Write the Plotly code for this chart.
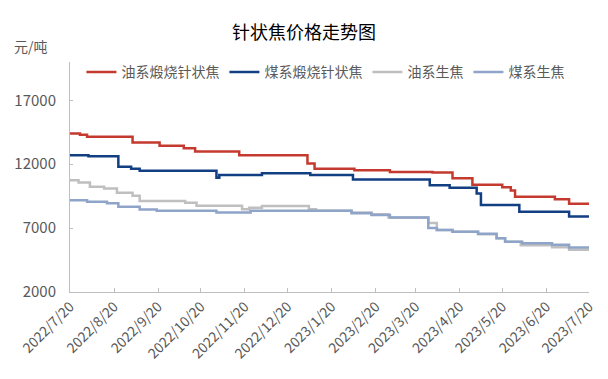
import plotly.graph_objects as go

# ---- data (change points, value holds until next date) ----
oil_calc_dates = ["2022-07-20", "2022-07-27", "2022-08-01", "2022-09-02", "2022-09-21", "2022-10-08",
                  "2022-10-16", "2022-11-16", "2023-01-03", "2023-01-08", "2023-02-05", "2023-03-02",
                  "2023-04-01", "2023-04-15", "2023-04-29", "2023-05-20", "2023-05-26", "2023-05-29",
                  "2023-06-26", "2023-07-06", "2023-07-20"]
oil_calc_vals = [14400, 14300, 14150, 13700, 13450, 13250,
                 13000, 12700, 12050, 11650, 11530, 11400,
                 11350, 10900, 10400, 10200, 9950, 9450,
                 9250, 8900, 8900]

coal_calc_dates = ["2022-07-20", "2022-08-02", "2022-08-23", "2022-09-01", "2022-09-07", "2022-10-31",
                   "2022-11-02", "2022-12-02", "2023-01-05", "2023-02-04", "2023-03-30", "2023-04-13",
                   "2023-05-02", "2023-05-05", "2023-06-01", "2023-07-06", "2023-07-20"]
coal_calc_vals = [12700, 12620, 11800, 11650, 11480, 10950,
                  11150, 11300, 11150, 10800, 10350, 10150,
                  9700, 8800, 8280, 7900, 7900]

oil_green_dates = ["2022-07-20", "2022-07-26", "2022-08-03", "2022-08-13", "2022-08-22", "2022-09-02",
                   "2022-09-07", "2022-10-09", "2022-10-17", "2022-11-18", "2022-11-23", "2022-12-02",
                   "2023-01-04", "2023-01-09", "2023-02-03", "2023-02-17", "2023-03-01", "2023-03-29",
                   "2023-04-04", "2023-04-15", "2023-05-03", "2023-05-16", "2023-05-22", "2023-06-02",
                   "2023-06-24", "2023-07-06", "2023-07-20"]
oil_green_vals = [10750, 10570, 10230, 10100, 9760, 9530,
                  9120, 8980, 8750, 8470, 8600, 8730,
                  8470, 8360, 8230, 8080, 7840, 7400,
                  6860, 6720, 6520, 6210, 5940, 5650,
                  5500, 5300, 5300]

coal_green_dates = ["2022-07-20", "2022-08-01", "2022-08-15", "2022-08-23", "2022-09-07", "2022-09-19",
                    "2022-10-31", "2022-11-24", "2023-02-03", "2023-02-17", "2023-03-02", "2023-03-29",
                    "2023-04-04", "2023-04-15", "2023-05-03", "2023-05-16", "2023-05-22", "2023-06-03",
                    "2023-06-24", "2023-07-06", "2023-07-20"]
coal_green_vals = [9190, 9060, 8940, 8670, 8450, 8360,
                   8230, 8360, 8160, 8020, 7840, 7000,
                   6860, 6720, 6550, 6210, 5940, 5820,
                   5690, 5480, 5480]

series_names = ["油系煅烧针状焦", "煤系煅烧针状焦", "油系生焦", "煤系生焦"]
series_colors = ["#C43A2E", "#123E82", "#BFBFBF", "#8EA4C9"]

tick_dates = ["2022-07-20", "2022-08-20", "2022-09-20", "2022-10-20", "2022-11-20", "2022-12-20",
              "2023-01-20", "2023-02-20", "2023-03-20", "2023-04-20", "2023-05-20", "2023-06-20",
              "2023-07-20"]
tick_labels = ["2022/7/20", "2022/8/20", "2022/9/20", "2022/10/20", "2022/11/20", "2022/12/20",
               "2023/1/20", "2023/2/20", "2023/3/20", "2023/4/20", "2023/5/20", "2023/6/20",
               "2023/7/20"]
y_ticks = [2000, 7000, 12000, 17000]

FONT = "Noto Sans CJK SC"

fig = go.Figure()
for name, color, xs, ys in zip(series_names, series_colors,
                               [oil_calc_dates, coal_calc_dates, oil_green_dates, coal_green_dates],
                               [oil_calc_vals, coal_calc_vals, oil_green_vals, coal_green_vals]):
    fig.add_trace(go.Scatter(x=xs, y=ys, name=name, mode="lines",
                             line=dict(color=color, width=2.5, shape="hv")))

fig.update_layout(
    width=608, height=379,
    margin=dict(l=70, r=19, t=62, b=87, autoexpand=False),
    paper_bgcolor="white", plot_bgcolor="white",
    font=dict(family=FONT, color="#595959", size=14),
    title=dict(text="针状焦价格走势图", x=0.5, xanchor="center", y=0.915, yanchor="middle",
               font=dict(family=FONT, size=18, color="#000000")),
    showlegend=True,
    legend=dict(orientation="h", x=0.022, xanchor="left", y=0.955, yanchor="middle",
                bgcolor="rgba(0,0,0,0)", font=dict(size=14, color="#595959"),
                itemwidth=30, tracegroupgap=0),
    annotations=[dict(text="元/吨", xref="paper", yref="paper", x=-0.112, y=1.07,
                      xanchor="left", yanchor="middle", showarrow=False,
                      font=dict(size=14, color="#595959"))],
)

fig.update_xaxes(type="date", range=["2022-07-20", "2023-07-20"], automargin=False,
                 tickvals=tick_dates, ticktext=tick_labels, tickangle=-45,
                 showgrid=False, showline=True, linecolor="#BFBFBF", linewidth=1,
                 ticks="inside", ticklen=4, tickcolor="#BFBFBF",
                 tickfont=dict(size=14, color="#595959"), zeroline=False)
fig.update_yaxes(range=[2000, 20000], tickvals=y_ticks, ticktext=[str(v) for v in y_ticks],
                 automargin=False,
                 showgrid=False, showline=True, linecolor="#BFBFBF", linewidth=1,
                 ticks="inside", ticklen=3, tickcolor="#BFBFBF",
                 tickfont=dict(size=15, color="#595959"), zeroline=False,
                 ticklabelstandoff=10)

fig.write_html("out.html", config={"displayModeBar": False},
               post_script="document.body.style.margin='0';document.body.style.overflow='hidden';")
